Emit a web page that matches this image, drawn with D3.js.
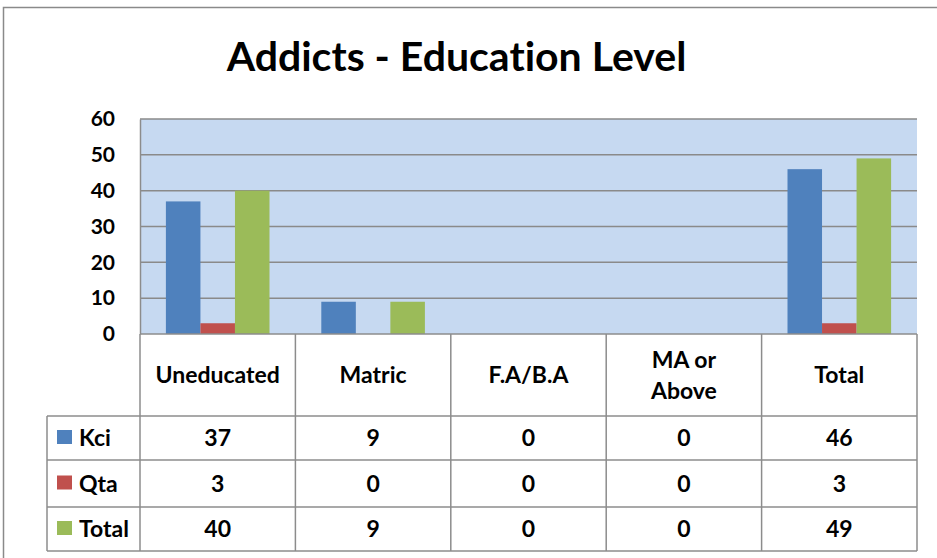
<!DOCTYPE html>
<html>
<head>
<meta charset="utf-8">
<script src="https://cdnjs.cloudflare.com/ajax/libs/d3/7.8.5/d3.min.js"></script>
<style>
  body { margin: 0; background: #fff; }
  text { font-family: Lato, "Open Sans", sans-serif; font-weight: bold; fill: #000; font-variant-ligatures: none; }
</style>
</head>
<body>
<div id="chart"></div>
<script>
// chart data
const categories = ["Uneducated", "Matric", "F.A/B.A", "MA or\nAbove", "Total"];
const seriesNames = ["Kci", "Qta", "Total"];
const kci = [37, 9, 0, 0, 46];
const qta = [3, 0, 0, 0, 3];
const total = [40, 9, 0, 0, 49];
const yTicks = [0, 10, 20, 30, 40, 50, 60];

const colors = ["#4F81BD", "#C0504D", "#9BBB59"];
const seriesValues = [kci, qta, total];

width = 937;
height = 558;

const plotLeft = 140, plotRight = 917, plotTop = 119, plotBottom = 334;
const tableLeft = 47;
const rowLines = [416, 460, 507, 551];
const lineColor = "#8c8c8c";

const svg = d3.select("#chart")
    .append("svg")
    .attr("width", width)
    .attr("height", height);

// outer chart border
svg.append("rect")
    .attr("x", 3.5).attr("y", 7.5)
    .attr("width", 945).attr("height", 560)
    .attr("fill", "#fff")
    .attr("stroke", "#8a8a8a")
    .attr("stroke-width", 1.5);

svg.append("text")
    .attr("x", 456.5)
    .attr("y", 71)
    .attr("text-anchor", "middle")
    .style("font-size", "41px")
    .text("Addicts - Education Level");

const x = d3.scaleBand()
    .domain(categories)
    .range([plotLeft, plotRight]);

const x1 = d3.scaleBand()
    .domain(seriesNames)
    .range([0, x.bandwidth()])
    .paddingOuter(0.75);

const y = d3.scaleLinear()
    .domain([0, 60])
    .range([plotBottom, plotTop]);

// plot background
svg.append("rect")
    .attr("x", plotLeft)
    .attr("y", plotTop)
    .attr("width", plotRight - plotLeft)
    .attr("height", plotBottom - plotTop)
    .attr("fill", "#C6D9F1");

// gridlines
svg.append("g")
    .selectAll("line")
    .data(yTicks.filter(d => d > 0))
    .join("line")
    .attr("x1", plotLeft)
    .attr("x2", plotRight)
    .attr("y1", d => y(d))
    .attr("y2", d => y(d))
    .attr("stroke", "#8a8a8a")
    .attr("stroke-width", 1.5);

// y axis
const yAxis = svg.append("g")
    .attr("transform", `translate(${plotLeft},0)`)
    .call(d3.axisLeft(y).tickValues(yTicks).tickSize(0).tickPadding(25));
yAxis.select(".domain")
    .attr("stroke", lineColor)
    .attr("stroke-width", 1.5);
yAxis.selectAll("text")
    .attr("fill", "#000")
    .style("font-family", "Lato, sans-serif")
    .style("font-weight", "bold")
    .style("font-size", "21px");

// bars
const barData = [];
categories.forEach((c, i) => {
    seriesNames.forEach((s, j) => {
        barData.push({category: c, series: s, value: seriesValues[j][i], color: colors[j]});
    });
});

svg.append("g")
    .selectAll("rect")
    .data(barData.filter(d => d.value > 0))
    .join("rect")
    .attr("x", d => x(d.category) + x1(d.series))
    .attr("y", d => y(d.value))
    .attr("width", x1.bandwidth())
    .attr("height", d => y(0) - y(d.value))
    .attr("fill", d => d.color);

// data table
const table = svg.append("g")
    .attr("stroke", lineColor)
    .attr("stroke-width", 1.5);

table.append("line")
    .attr("x1", plotLeft).attr("x2", plotRight)
    .attr("y1", plotBottom).attr("y2", plotBottom);

rowLines.forEach(ry => {
    table.append("line")
        .attr("x1", tableLeft).attr("x2", plotRight)
        .attr("y1", ry).attr("y2", ry);
});

table.append("line")
    .attr("x1", tableLeft).attr("x2", tableLeft)
    .attr("y1", rowLines[0]).attr("y2", rowLines[rowLines.length - 1]);

const colEdges = categories.map(c => x(c)).concat([plotRight]);
colEdges.forEach(cx => {
    table.append("line")
        .attr("x1", cx).attr("x2", cx)
        .attr("y1", plotBottom).attr("y2", rowLines[rowLines.length - 1]);
});

// header labels
const headerMid = (plotBottom + rowLines[0]) / 2;
categories.forEach(c => {
    const lines = c.split("\n");
    const t = svg.append("text")
        .attr("text-anchor", "middle")
        .style("font-size", "23px");
    lines.forEach((ln, k) => {
        t.append("tspan")
            .attr("x", x(c) + x.bandwidth() / 2)
            .attr("y", headerMid + 8 + (k - (lines.length - 1) / 2) * 31)
            .text(ln);
    });
});

// value rows with legend keys
seriesNames.forEach((s, j) => {
    const top = rowLines[j], bottom = rowLines[j + 1];
    const mid = (top + bottom) / 2;

    svg.append("rect")
        .attr("x", 57)
        .attr("y", mid - 8)
        .attr("width", 15)
        .attr("height", 14)
        .attr("fill", colors[j]);

    svg.append("text")
        .attr("x", 79)
        .attr("y", mid + 8)
        .style("font-size", "23px")
        .text(s);

    categories.forEach((c, i) => {
        svg.append("text")
            .attr("x", x(c) + x.bandwidth() / 2)
            .attr("y", mid + 8)
            .attr("text-anchor", "middle")
            .style("font-size", "23px")
            .text(seriesValues[j][i]);
    });
});
</script>
</body>
</html>
